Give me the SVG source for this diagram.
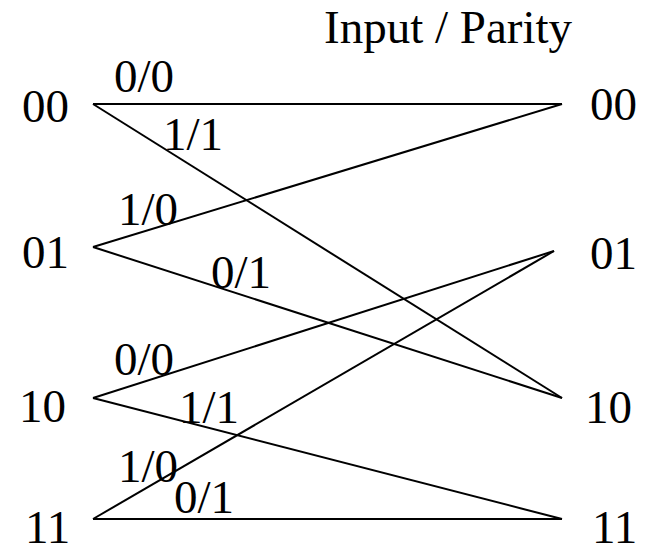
<svg xmlns="http://www.w3.org/2000/svg" width="658" height="546" viewBox="0 0 658 546">
<style>
text{font-family:"Liberation Serif","Times New Roman",serif;font-size:47px;fill:#000}
.c line{stroke:#000;stroke-width:2;fill:none}
</style>
<rect width="658" height="546" fill="#fff"/>
<text x="324" y="43">Input / Parity</text>
<g id="connectors" class="c">
<line x1="93" y1="104" x2="562" y2="104"/>
<line x1="93" y1="104" x2="562" y2="398"/>
<line x1="93" y1="247" x2="562" y2="104"/>
<line x1="93" y1="247" x2="562" y2="398"/>
<line x1="93" y1="398" x2="554" y2="251"/>
<line x1="93" y1="398" x2="562" y2="519"/>
<line x1="93" y1="519" x2="554" y2="251"/>
<line x1="93" y1="519" x2="562" y2="519"/>
</g>
<g id="labels">
<text x="114" y="92">0/0</text>
<text x="163" y="150">1/1</text>
<text x="118" y="225">1/0</text>
<text x="211" y="288">0/1</text>
<text x="114" y="375">0/0</text>
<text x="179" y="423">1/1</text>
<text x="118" y="482">1/0</text>
<text x="174" y="513">0/1</text>
</g>
<g id="L00"><text x="22" y="122">00</text></g>
<g id="L01"><text x="22" y="268">01</text></g>
<g id="L10"><text x="19" y="422">10</text></g>
<g id="L11"><text x="25" y="543">11</text></g>
<g id="R00"><text x="590" y="120">00</text></g>
<g id="R01"><text x="590" y="269">01</text></g>
<g id="R10"><text x="585" y="423">10</text></g>
<g id="R11"><text x="592" y="543">11</text></g>
</svg>
